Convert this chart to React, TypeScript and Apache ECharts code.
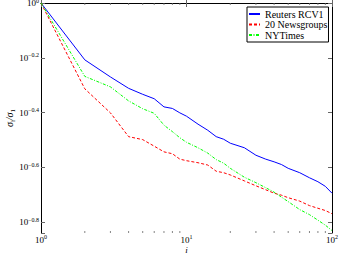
import React, { useEffect, useRef } from "react";
import * as echarts from "echarts";

const iValues = [1, 2, 3, 4, 5, 6, 7, 8, 9, 10, 12, 14, 16, 18, 20, 25, 30, 35, 40, 45, 50, 60, 70, 80, 90, 100];
const reutersRCV1 = [1, 0.62, 0.537, 0.488, 0.464, 0.447, 0.4175, 0.412, 0.397, 0.386, 0.361, 0.343, 0.325, 0.318, 0.3075, 0.296, 0.278, 0.269, 0.263, 0.257, 0.249, 0.24, 0.23, 0.2225, 0.214, 0.202];
const newsgroups20 = [1, 0.486, 0.397, 0.325, 0.317, 0.3, 0.286, 0.2815, 0.269, 0.2655, 0.261, 0.256, 0.243, 0.24, 0.2355, 0.224, 0.215, 0.208, 0.202, 0.1986, 0.1945, 0.189, 0.182, 0.178, 0.1746, 0.17];
const nyTimes = [1, 0.5395, 0.494, 0.439, 0.411, 0.3955, 0.358, 0.339, 0.322, 0.31, 0.296, 0.283, 0.268, 0.26, 0.249, 0.231, 0.2207, 0.2116, 0.2038, 0.1954, 0.1882, 0.176, 0.1687, 0.161, 0.1544, 0.1475];
const seriesNames = ["Reuters RCV1", "20 Newsgroups", "NYTimes"];
const minorTickValues = [2, 3, 4, 5, 6, 7, 8, 9, 20, 30, 40, 50, 60, 70, 80, 90];

const Y_MIN_EXP = -0.84;
const Y_MIN = Math.pow(10, Y_MIN_EXP);
const FONT = "'Liberation Serif', 'DejaVu Serif', serif";

const supRich = {
  b: { fontSize: 9, fontFamily: FONT, color: "#000", lineHeight: 9, verticalAlign: "bottom" },
  s: { fontSize: 6, fontFamily: FONT, color: "#000", lineHeight: 6, padding: [0, 0, 4, 0], verticalAlign: "bottom" },
};

export default function App() {
  const ref = useRef<HTMLDivElement>(null);
  useEffect(() => {
    if (!ref.current) return;
    const chart = echarts.init(ref.current, null, { renderer: "svg" });
    const tickStyle = { color: "#666", width: 1 };
    const pair = (vals: number[]) => iValues.map((x, k) => [x, vals[k]]);
    const option: any = {
      animation: false,
      backgroundColor: "#fff",
      textStyle: { fontFamily: FONT },
      grid: { left: 41, right: 8, top: 3, bottom: 21, containLabel: false, outerBoundsMode: "none" },
      legend: {
        data: seriesNames,
        orient: "vertical",
        left: 247,
        top: 7,
        padding: [2, 1, 2, 1],
        itemWidth: 11,
        itemHeight: 10,
        itemGap: 0.5,
        borderColor: "#000",
        borderWidth: 1,
        borderRadius: 0,
        backgroundColor: "#fff",
        itemStyle: { opacity: 0 },
        textStyle: { fontFamily: FONT, fontSize: 10, color: "#000" },
      },
      xAxis: [
        {
          type: "log",
          logBase: 10,
          min: 1,
          max: 100,
          position: "bottom",
          axisLine: { lineStyle: { color: "#000", width: 1 } },
          axisTick: { inside: true, length: 4, lineStyle: tickStyle },
          splitLine: { show: false },
          axisLabel: {
            margin: 2,
            formatter: (v: number) => `{b|10}{s|${Math.round(Math.log10(v))}}`,
            rich: supRich,
          },
          name: "i",
          nameLocation: "middle",
          nameGap: 12,
          nameMoveOverlap: false,
          nameTextStyle: { fontFamily: FONT, fontSize: 9, lineHeight: 9, fontStyle: "italic", color: "#000" },
        },
        {
          type: "log",
          logBase: 10,
          min: 1,
          max: 100,
          position: "top",
          axisLine: { lineStyle: { color: "#000", width: 1 } },
          axisTick: { inside: true, length: 4, lineStyle: tickStyle },
          splitLine: { show: false },
          axisLabel: { show: false },
        },
      ],
      yAxis: [
        {
          type: "log",
          logBase: 10,
          min: Y_MIN,
          max: 1,
          position: "left",
          show: false,
          splitLine: { show: false },
        },
        {
          type: "value",
          min: Y_MIN_EXP,
          max: 0,
          position: "left",
          axisLine: { show: true, lineStyle: { color: "#000", width: 1 } },
          axisTick: { show: true, inside: true, length: 4, lineStyle: tickStyle },
          splitLine: { show: false },
          axisLabel: {
            margin: 2,
            formatter: (v: number) => {
              if (Math.abs(v * 5 - Math.round(v * 5)) > 1e-6) return "";
              const s = Math.abs(v) < 1e-9 ? "0" : "\u2212" + Math.abs(v).toFixed(1);
              return `{b|10}{s|${s}}`;
            },
            rich: supRich,
          },
          name: "{a|\u03c3}{u|i}{a|/\u03c3}{u|1}",
          nameLocation: "middle",
          nameRotate: 90,
          nameGap: 25,
          nameMoveOverlap: false,
          nameTextStyle: {
            rich: {
              a: { fontFamily: FONT, fontSize: 10, fontStyle: "italic", color: "#000", lineHeight: 12, verticalAlign: "top" },
              u: { fontFamily: FONT, fontSize: 7, color: "#000", lineHeight: 7, verticalAlign: "bottom" },
            },
          },
        },
        {
          type: "value",
          min: Y_MIN_EXP,
          max: 0,
          position: "right",
          axisLine: { show: true, lineStyle: { color: "#000", width: 1 } },
          axisTick: { show: true, inside: true, length: 4, lineStyle: tickStyle },
          splitLine: { show: false },
          axisLabel: { show: false },
        },
      ],
      series: [
        {
          name: seriesNames[0],
          type: "line",
          data: pair(reutersRCV1),
          xAxisIndex: 0,
          yAxisIndex: 0,
          symbol: "none",
          showSymbol: false,
          color: "#0000ff",
          lineStyle: { color: "#0000ff", width: 1, type: "solid" },
        },
        {
          name: seriesNames[1],
          type: "line",
          data: pair(newsgroups20),
          xAxisIndex: 0,
          yAxisIndex: 0,
          symbol: "none",
          showSymbol: false,
          color: "#ff0000",
          lineStyle: { color: "#ff0000", width: 1, type: [3, 2] },
        },
        {
          name: seriesNames[2],
          type: "line",
          data: pair(nyTimes),
          xAxisIndex: 0,
          yAxisIndex: 0,
          symbol: "none",
          showSymbol: false,
          color: "#00ff00",
          lineStyle: { color: "#00ff00", width: 1, type: [3, 1.5, 1, 1.5] },
        },
        {
          name: "minorBottom",
          type: "scatter",
          xAxisIndex: 0,
          yAxisIndex: 0,
          data: minorTickValues.map((v) => [v, Y_MIN]),
          symbol: "rect",
          symbolSize: [1, 2],
          symbolOffset: [0, -1],
          itemStyle: { color: "#666" },
          silent: true,
          clip: false,
        },
        {
          name: "minorTop",
          type: "scatter",
          xAxisIndex: 0,
          yAxisIndex: 0,
          data: minorTickValues.map((v) => [v, 1]),
          symbol: "rect",
          symbolSize: [1, 2],
          symbolOffset: [0, 1],
          itemStyle: { color: "#666" },
          silent: true,
          clip: false,
        },
      ],
    };
    chart.setOption(option);
    return () => chart.dispose();
  }, []);
  return <div ref={ref} style={{ position: "fixed", left: 0, top: 0, width: 340, height: 254 }} />;
}
